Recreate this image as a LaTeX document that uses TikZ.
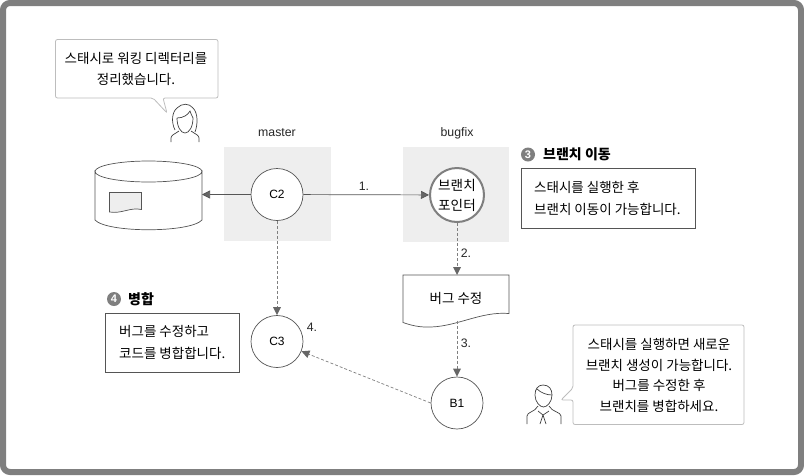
\documentclass[tikz,border=0pt]{standalone}
\usepackage{fontspec}
\setmainfont{Liberation Sans}
\newfontfamily\kr{Noto Sans CJK KR}
\usepackage{xcolor}
\usetikzlibrary{arrows.meta}
\definecolor{framegray}{HTML}{7F7F7F}
\definecolor{shadegray}{HTML}{EEEEEE}
\definecolor{linegray}{HTML}{555555}
\definecolor{talkgray}{HTML}{BDBDBD}
\definecolor{tipgray}{HTML}{666666}
\tikzset{
commit/.style={circle,draw=linegray,line width=.7pt,fill=white,minimum size=52pt,inner sep=0pt,font=\fontsize{12}{13}\selectfont},
pointer/.style={commit,draw=framegray,line width=2pt,minimum size=54pt,font=\kr\fontsize{13.6}{20}\selectfont,align=center},
label/.style={font=\fontsize{12.3}{13}\selectfont,text=black!85,inner sep=0pt},
talk/.style={font=\kr\fontsize{13.5}{20.7}\selectfont,align=center,inner sep=0pt},
talkbox/.style={draw=talkgray,line width=.8pt,rounded corners=2pt,fill=white},
note/.style={font=\kr\fontsize{13.5}{22}\selectfont,align=left,inner sep=0pt,anchor=west},
badge/.style={circle,fill=framegray,minimum size=14pt,inner sep=0pt,text=white,font=\bfseries\fontsize{11}{11}\selectfont},
heading/.style={font=\kr\bfseries\fontsize{14}{15}\selectfont,anchor=west,inner sep=0pt},
solid arrow/.style={draw=linegray,line width=.7pt,-{Triangle[length=8pt,width=8pt,fill=tipgray]}},
dash arrow/.style={draw=framegray,line width=.7pt,dash pattern=on 3pt off 2pt,-{Triangle[length=8pt,width=8pt,fill=tipgray,sep=0pt,line width=0pt]}},
figure/.style={draw=black!75,line width=.7pt}
}
\begin{document}
\begin{tikzpicture}[x=1pt,y=-1pt]
\useasboundingbox (0,0) rectangle (804,475);
\draw[framegray,line width=6pt,rounded corners=7pt] (3,3) rectangle (801,472);

\fill[shadegray] (224,147) rectangle (331,241);
\fill[shadegray] (403,147) rectangle (509,242);
\node[label] (master) at (277,133) {master};
\node[label] (bugfix) at (457,133) {bugfix};

\node[commit] (c2) at (277,194.5) {C2};
\node[pointer] (branch) at (457,195) {브랜치\\포인터};
\node[commit] (c3) at (277,341.5) {C3};
\node[commit] (b1) at (457,403) {B1};

\draw[linegray,line width=.7pt] (95,171.5) arc[start angle=180,end angle=360,x radius=53.5,y radius=-10.5] -- (202,220) .. controls (190,233) and (107,233) .. (95,220) -- cycle;
\draw[linegray,line width=.7pt] (95,171.5) arc[start angle=180,end angle=0,x radius=53.5,y radius=-10.5];
\coordinate (store) at (202,194.5);
\draw[linegray,line width=.7pt,fill=shadegray] (109.5,192.5) -- (141.5,192.5) -- (141.5,209.5) .. controls (130,207) and (122,214) .. (109.5,212) -- cycle;

\draw[draw=linegray,line width=.7pt,fill=white] (403,275) -- (509,275) -- (509,313.5) .. controls (480,311) and (455,328) .. (426,327) .. controls (418,327) and (410,325) .. (403,322.5) -- cycle;
\node[talk,minimum width=106pt,minimum height=47pt] (bugdoc) at (456,298.5) {\raisebox{2pt}{버그 수정}};

\draw[solid arrow] (c2) -- (store);
\draw[solid arrow] (c2) -- (branch);
\draw[dash arrow] (c2) -- (c3);
\draw[dash arrow] (branch) -- (457,275);
\draw[dash arrow] (457,320.5) -- (b1);
\draw[dash arrow] (b1.west) -- (c3);

\node[label] (step1) at (364,186) {1.};
\node[label] (step2) at (466,253) {2.};
\node[label] (step3) at (466,343) {3.};
\node[label] (step4) at (312,327) {4.};

\node[badge] (badge3) at (528,154.5) {3};
\node[heading] (head3) at (543,154.5) {브랜치 이동};
\draw[linegray,line width=.7pt] (521,168.5) rectangle (695,228);
\node[note] (note3) at (534,198) {스태시를 실행한 후\\브랜치 이동이 가능합니다.};
\node[badge] (badge4) at (114,299) {4};
\node[heading] (head4) at (128,299) {병합};
\draw[linegray,line width=.7pt] (105.5,313) rectangle (239,372.5);
\node[note] (note4) at (119,342.5) {버그를 수정하고\\코드를 병합합니다.};

\draw[talkbox] (55.5,39.5) -- (218,39.5) -- (218,98) -- (163,98) -- (167,113) -- (153,98) -- (55.5,98) -- cycle;
\node[talk] (talk1) at (136,69) {스태시로 워킹 디렉터리를\\정리했습니다.};
\draw[talkbox] (573,325) -- (744,325) -- (744,424.5) -- (573,424.5) -- (573,400) -- (561,400) -- (573,388) -- cycle;
\node[talk] (talk2) at (659,375.5) {스태시를 실행하면 새로운\\브랜치 생성이 가능합니다.\\버그를 수정한 후\\브랜치를 병합하세요.};

\draw[figure] (175,130) .. controls (171,122) and (172,112) .. (177,108) .. controls (182,103) and (189,103) .. (193,108) .. controls (198,113) and (198,124) .. (195,132);
\draw[figure] (177,118) .. controls (183,118) and (188,115) .. (190,111) .. controls (191,114) and (192,116) .. (193,118) .. controls (193,127) and (189,133) .. (185,133) .. controls (181,133) and (177,127) .. (177,118);
\draw[figure] (171,142) -- (171,138) .. controls (171,135) and (175,134) .. (179,131);
\draw[figure] (199,142) -- (199,138) .. controls (199,135) and (195,134) .. (191,131);

\draw[figure] (535,395) .. controls (535,389) and (538,385) .. (543,385) .. controls (549,385) and (552,389) .. (552,395) .. controls (552,402) and (547,407) .. (543.5,407) .. controls (540,407) and (535,402) .. (535,395);
\draw[figure] (537,389) .. controls (541,393) and (547,395) .. (552,395);
\draw[figure] (527,424) -- (527,416) .. controls (527,412) and (535,412) .. (538,406);
\draw[figure] (561,424) -- (561,416) .. controls (561,412) and (552,412) .. (549,406);
\draw[figure] (538,411) -- (543,415) -- (549,411);
\draw[figure] (543,415) -- (540,424);
\draw[figure] (543,415) -- (546,424);
\end{tikzpicture}
\end{document}
